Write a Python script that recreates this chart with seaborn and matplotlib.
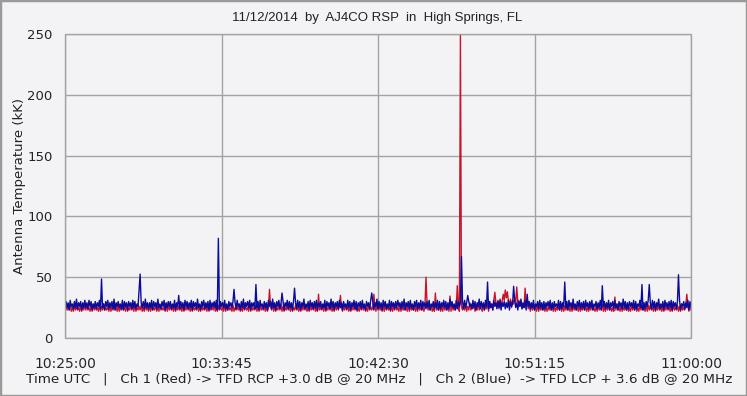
import numpy as np
import pandas as pd
import matplotlib
matplotlib.use("Agg")
import matplotlib.pyplot as plt
import seaborn as sns
from matplotlib.patches import Rectangle
from matplotlib.ticker import MultipleLocator

# ---- data (seconds after 10:25:00 UTC, antenna temperature in kK) ----
sample_step_s = 3.5
ch1_red = [
    22, 27, 23, 26, 23, 28, 22, 25, 22, 27, 23, 26, 23, 25, 22, 27, 22, 26, 23, 28,
    23, 26, 23, 25, 22, 27, 22, 28, 23, 26, 23, 25, 22, 27, 22, 26, 23, 28, 23, 25,
    23, 26, 22, 27, 22, 25, 23, 28, 23, 26, 22, 27, 22, 25, 23, 26, 23, 27, 22, 28,
    22, 25, 23, 27, 23, 26, 22, 28, 22, 25, 23, 26, 23, 27, 22, 25, 22, 28, 23, 26,
    22, 27, 22, 26, 23, 25, 23, 28, 22, 26, 22, 27, 23, 25, 23, 26, 22, 28, 22, 27,
    23, 26, 23, 25, 22, 28, 22, 27, 23, 26, 23, 25, 22, 27, 22, 26, 23, 28, 23, 25,
    22, 28, 22, 26, 23, 25, 23, 27, 22, 26, 22, 28, 23, 25, 23, 27, 22, 26, 22, 25,
    23, 26, 23, 28, 22, 25, 22, 27, 23, 26, 23, 25, 22, 28, 22, 26, 23, 27, 23, 25,
    22, 27, 22, 25, 23, 26, 23, 28, 22, 25, 22, 27, 23, 26, 23, 25, 22, 28, 22, 26,
    23, 25, 23, 27, 22, 26, 22, 28, 23, 25, 23, 26, 22, 27, 22, 25, 40, 26, 23, 28,
    22, 26, 22, 25, 23, 27, 23, 28, 22, 26, 22, 25, 23, 27, 23, 26, 22, 28, 22, 25,
    23, 27, 23, 26, 22, 25, 22, 28, 23, 27, 23, 26, 22, 25, 22, 27, 23, 26, 23, 28,
    22, 25, 22, 36, 23, 27, 23, 26, 22, 28, 22, 25, 23, 27, 23, 26, 22, 25, 22, 28,
    23, 27, 23, 26, 35, 25, 22, 28, 23, 27, 23, 26, 22, 25, 22, 28, 23, 27, 23, 26,
    22, 25, 22, 28, 23, 26, 23, 27, 22, 25, 22, 28, 23, 26, 23, 25, 36, 27, 22, 28,
    23, 26, 23, 25, 22, 27, 22, 28, 23, 26, 23, 25, 22, 27, 22, 26, 23, 28, 23, 25,
    22, 28, 22, 26, 23, 25, 23, 27, 22, 28, 22, 26, 23, 25, 23, 27, 22, 26, 22, 28,
    23, 25, 23, 27, 22, 26, 50, 28, 23, 25, 23, 27, 22, 26, 22, 37, 23, 25, 23, 27,
    22, 26, 22, 28, 23, 25, 23, 27, 22, 34.5, 22, 28, 23, 26, 23, 25, 43, 27, 22, 250,
    26, 23, 27, 23, 28, 22, 26, 23, 29, 23, 27, 24, 28, 22, 26, 23, 29, 23, 27, 24,
    22, 28, 23, 27, 24, 29, 22, 30, 25, 28, 23, 31, 37.6, 29, 26, 31, 24, 32, 27, 30,
    36, 31, 39.5, 33, 38, 30, 27, 32, 25, 31, 28, 33, 30, 42, 29, 31, 26, 30, 24, 28,
    25, 41, 27, 31, 24, 29, 22, 28, 23, 27, 23, 26, 22, 28, 22, 27, 23, 25, 23, 26,
    22, 27, 22, 25, 23, 28, 23, 26, 22, 27, 22, 25, 23, 26, 23, 28, 22, 27, 22, 26,
    23, 25, 23, 28, 22, 26, 22, 27, 23, 25, 23, 26, 22, 28, 22, 25, 23, 27, 23, 26,
    22, 26, 22, 27, 23, 28, 23, 25, 22, 26, 22, 27, 23, 25, 23, 28, 22, 26, 22, 27,
    23, 28, 23, 26, 22, 25, 22, 33.7, 23, 28, 23, 26, 22, 27, 22, 25, 23, 28, 23, 26,
    22, 25, 22, 27, 23, 26, 23, 28, 22, 25, 22, 27, 23, 26, 23, 25, 22, 28, 22, 27,
    23, 27, 23, 25, 22, 28, 22, 26, 23, 27, 23, 25, 22, 26, 22, 28, 23, 27, 23, 25,
    22, 26, 22, 28, 23, 25, 23, 27, 22, 26, 22, 28, 23, 25, 23, 27, 36, 26, 22, 28,
    23,
]
ch2_blue = [
    24, 30, 25, 29, 23, 31, 26, 28, 24, 30, 25, 32, 24, 29, 26, 30, 23, 29, 25, 31,
    25, 29, 24, 31, 26, 30, 23, 28, 25, 30, 24, 29, 26, 31, 24, 48.5, 25, 28, 23, 30,
    26, 31, 24, 29, 25, 30, 24, 32, 23, 29, 26, 30, 25, 28, 24, 31, 23, 30, 26, 29,
    23, 30, 26, 29, 24, 31, 25, 30, 24, 28, 26, 39, 52.6, 29, 25, 30, 24, 32, 25, 29,
    24, 29, 25, 31, 23, 30, 26, 29, 24, 32, 25, 28, 24, 30, 26, 31, 23, 29, 25, 30,
    26, 30, 24, 28, 25, 31, 23, 29, 26, 35, 24, 30, 25, 29, 23, 31, 26, 30, 24, 29,
    25, 31, 23, 30, 26, 29, 24, 32, 25, 28, 23, 30, 26, 31, 24, 29, 25, 30, 23, 31,
    24, 29, 26, 30, 25, 31, 23, 82, 24, 30, 26, 29, 25, 31, 24, 28, 23, 30, 26, 29,
    25, 30, 40, 29, 24, 31, 26, 28, 23, 30, 25, 32, 24, 29, 26, 30, 25, 31, 23, 29,
    26, 29, 24, 44, 25, 30, 23, 31, 26, 28, 24, 30, 25, 29, 23, 31, 26, 30, 24, 32,
    25, 29, 23, 30, 26, 31, 24, 28, 37, 30, 23, 29, 26, 31, 24, 30, 25, 29, 23, 30,
    41, 29, 24, 31, 25, 30, 23, 29, 26, 32, 24, 28, 25, 30, 23, 31, 26, 29, 24, 30,
    25, 31, 23, 29, 26, 30, 24, 28, 25, 31, 23, 30, 26, 29, 24, 32, 25, 30, 23, 29,
    26, 30, 24, 31, 25, 29, 23, 30, 26, 28, 24, 31, 25, 30, 23, 29, 26, 31, 24, 30,
    23, 29, 26, 30, 24, 31, 25, 28, 23, 30, 26, 29, 24, 31, 37, 30, 23, 29, 26, 32,
    24, 30, 25, 29, 23, 31, 26, 30, 24, 28, 25, 31, 23, 30, 26, 29, 24, 30, 25, 31,
    26, 29, 24, 30, 25, 32, 23, 29, 26, 30, 24, 31, 25, 28, 23, 30, 26, 31, 24, 29,
    25, 31, 23, 30, 26, 29, 24, 30, 25, 31, 23, 28, 26, 30, 24, 29, 25, 31, 23, 30,
    24, 29, 26, 31, 25, 30, 23, 29, 24, 32, 26, 30, 25, 28, 23, 31, 24, 30, 26, 29,
    67, 30, 24, 31, 25, 29, 35, 30, 26, 28, 24, 31, 25, 30, 23, 29, 26, 32, 24, 30,
    25, 29, 23, 31, 26, 46, 24, 30, 25, 28, 23, 31, 26, 29, 24, 30, 25, 31, 23, 29,
    26, 30, 24, 29, 25, 31, 23, 30, 26, 28, 42.5, 31, 25, 29, 23, 30, 26, 32, 24, 29,
    25, 31, 23, 36, 26, 30, 24, 29, 25, 31, 23, 28, 26, 30, 24, 31, 25, 29, 23, 30,
    24, 29, 26, 30, 25, 31, 23, 29, 24, 30, 26, 28, 25, 31, 23, 30, 24, 29, 26, 46,
    25, 30, 23, 31, 26, 29, 24, 32, 25, 28, 23, 30, 26, 31, 24, 29, 25, 30, 23, 31,
    26, 29, 24, 30, 25, 31, 23, 28, 26, 30, 24, 29, 25, 31, 23, 43, 26, 30, 24, 29,
    25, 31, 23, 29, 26, 30, 24, 31, 25, 28, 23, 30, 26, 29, 24, 32, 25, 30, 23, 29,
    24, 30, 26, 29, 25, 31, 23, 30, 24, 28, 26, 31, 25, 44, 23, 29, 24, 30, 26, 31,
    44, 29, 24, 31, 25, 30, 23, 29, 26, 32, 24, 28, 25, 30, 23, 31, 26, 29, 24, 30,
    25, 31, 23, 30, 26, 29, 24, 30, 52, 31, 23, 28, 26, 30, 24, 29, 25, 31, 23, 30,
    26,
]
major_ticks_s = [0, 525, 1050, 1575, 2100]
major_tick_labels = ["10:25:00", "10:33:45", "10:42:30", "10:51:15", "11:00:00"]
title = "11/12/2014  by  AJ4CO RSP  in  High Springs, FL"
caption = ("Time UTC   |   Ch 1 (Red) -> TFD RCP +3.0 dB @ 20 MHz   |   "
           "Ch 2 (Blue)  -> TFD LCP + 3.6 dB @ 20 MHz")
ylabel = "Antenna Temperature (kK)"

n = min(len(ch1_red), len(ch2_blue))
t = np.arange(n) * sample_step_s
df = pd.DataFrame({"t": np.concatenate([t, t]),
                   "temp": np.concatenate([ch1_red[:n], ch2_blue[:n]]),
                   "ch": ["red"] * n + ["blue"] * n})

BG = "#F3F3F5"
GRID = "#A3A3A3"
sns.set_style("white")
plt.rcParams["font.family"] = ["DejaVu Sans"]

fig = plt.figure(figsize=(7.47, 3.96), dpi=100, facecolor=BG)
ax = fig.add_axes([65 / 747, 1 - 338 / 396, 626 / 747, 304 / 396])
ax.set_facecolor(BG)

sns.lineplot(data=df, x="t", y="temp", hue="ch",
             palette={"red": "#C8142A", "blue": "#0C0C9C"},
             estimator=None, linewidth=1.0, legend=False, ax=ax, zorder=3)

ax.set_xlim(0, 2100)
ax.set_ylim(0, 250)
ax.set_xticks(major_ticks_s)
ax.set_xticklabels(major_tick_labels, fontsize=9.5, color="#222222")
ax.xaxis.set_minor_locator(MultipleLocator(87.5))
ax.yaxis.set_major_locator(MultipleLocator(50))
ax.yaxis.set_minor_locator(MultipleLocator(10))
ax.tick_params(axis="y", which="major", labelsize=9.5, length=2, width=1,
               color="#555555", pad=2, labelcolor="#222222")
ax.tick_params(axis="y", which="minor", length=3, width=1, color="#555555")
ax.tick_params(axis="x", which="major", length=6, width=1, color="#555555", pad=3)
ax.tick_params(axis="x", which="minor", length=3, width=1, color="#555555")

for side in ["left", "bottom"]:
    ax.spines[side].set_position(("outward", 5))
    ax.spines[side].set_color("none")
for side in ["top", "right"]:
    ax.spines[side].set_visible(False)
ax.add_patch(Rectangle((0, 0), 1, 1, transform=ax.transAxes, fill=False,
                       edgecolor=GRID, linewidth=1, zorder=4, clip_on=False))

ax.grid(True, which="major", color=GRID, linewidth=1)
ax.set_axisbelow(True)

ax.set_xlabel("")
ax.set_ylabel(ylabel, fontsize=9.5, color="#222222", labelpad=0.5)
fig.text(0.505, 1 - 18 / 396, title, ha="center", va="center",
         fontsize=9.5, family=["Liberation Sans"], color="#222222")
fig.text(0.507, 1 - 379 / 396, caption, ha="center", va="center",
         fontsize=9.7, color="#222222")

fig.add_artist(Rectangle((0, 0), 1, 1, transform=fig.transFigure, fill=False,
                         edgecolor="#9A9A9A", linewidth=2.5))

fig.savefig("out.png", dpi=100, facecolor=BG)
